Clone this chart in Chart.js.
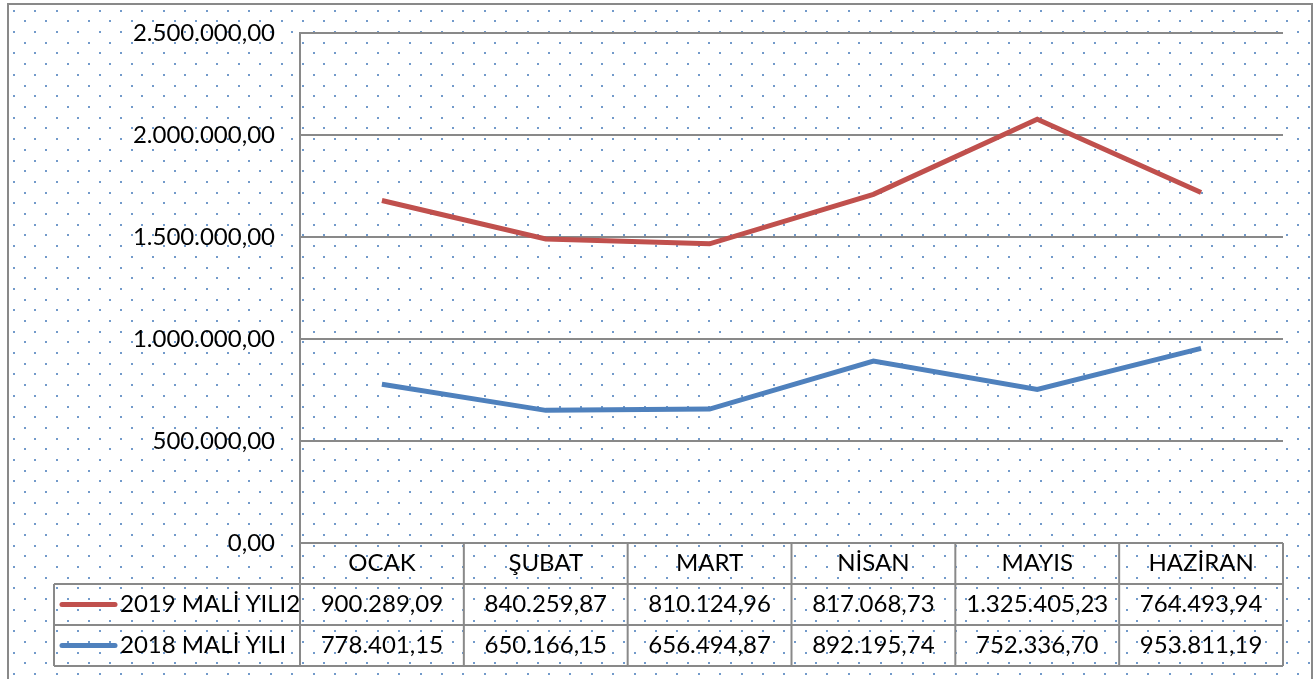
<!DOCTYPE html>
<html lang="tr">
<head>
    <meta charset="UTF-8">
    <title>Mali Yıl Karşılaştırma</title>
    <script src="https://cdn.jsdelivr.net/npm/chart.js@4.4.0/dist/chart.umd.min.js"></script>
    <style>
        body { margin: 0; padding: 0; background: #fff; }
        canvas { display: block; }
    </style>
</head>
<body>
    <canvas id="chart" width="1316" height="679"></canvas>

    <script>
        // data (2019 line is stacked on top of 2018 like the excel chart)
        const months = ['OCAK', 'ŞUBAT', 'MART', 'NİSAN', 'MAYIS', 'HAZİRAN'];
        const labels2019 = '2019 MALİ YILI2';
        const labels2018 = '2018 MALİ YILI';
        const values2019 = [900289.09, 840259.87, 810124.96, 817068.73, 1325405.23, 764493.94];
        const values2018 = [778401.15, 650166.15, 656494.87, 892195.74, 752336.70, 953811.19];
        const yTicks = [0, 500000, 1000000, 1500000, 2000000, 2500000];

        const FONT = 'Lato, sans-serif';
        const FONT_SIZE = 24;
        const RED = '#c0504d';
        const BLUE = '#4f81bd';
        const GRID = '#898989';

        function fmt(v) {
            const parts = v.toFixed(2).split('.');
            return parts[0].replace(/\B(?=(\d{3})+(?!\d))/g, '.') + ',' + parts[1];
        }

        const dotsBackground = {
            id: 'dotsBackground',
            beforeDraw(chart) {
                const ctx = chart.ctx;
                ctx.save();
                ctx.fillStyle = '#fff';
                ctx.fillRect(0, 0, chart.width, chart.height);
                ctx.fillStyle = 'rgba(79,129,189,0.8)';
                const step = 21.4;
                for (let y = 10.7; y < chart.height; y += step) {
                    for (let x = 14; x < chart.width; x += step) {
                        ctx.fillRect(Math.round(x) - 1, Math.round(y) - 1, 2, 2);
                        ctx.fillRect(Math.round(x + 10.7) - 1, Math.round(y + 10.7) - 1, 2, 2);
                    }
                }
                // outer frame
                ctx.strokeStyle = GRID;
                ctx.lineWidth = 2;
                ctx.strokeRect(8, 4, 1304, 700);
                ctx.restore();
            }
        };

        const dataTable = {
            id: 'dataTable',
            afterDraw(chart) {
                const ctx = chart.ctx;
                const xs = chart.scales.x;
                const area = chart.chartArea;
                const colW = (area.right - area.left) / months.length;
                const top = area.bottom;
                const rowH = 41;
                const legendLeft = 54;
                ctx.save();
                ctx.strokeStyle = GRID;
                ctx.lineWidth = 2;
                ctx.beginPath();
                // horizontal lines
                ctx.moveTo(area.left, top); ctx.lineTo(area.right, top);
                for (let r = 1; r <= 3; r++) {
                    ctx.moveTo(legendLeft, top + r * rowH);
                    ctx.lineTo(area.right, top + r * rowH);
                }
                // vertical lines
                for (let c = 0; c <= months.length; c++) {
                    const x = area.left + c * colW;
                    ctx.moveTo(x, top); ctx.lineTo(x, top + 3 * rowH);
                }
                ctx.moveTo(legendLeft, top + rowH); ctx.lineTo(legendLeft, top + 3 * rowH);
                ctx.stroke();

                ctx.fillStyle = '#000';
                ctx.font = FONT_SIZE + 'px ' + FONT;
                ctx.textAlign = 'center';
                ctx.textBaseline = 'middle';
                months.forEach((m, i) => {
                    const cx = xs.getPixelForValue(i);
                    ctx.fillText(m, cx, top + rowH * 0.5);
                    ctx.fillText(fmt(values2019[i]), cx, top + rowH * 1.5);
                    ctx.fillText(fmt(values2018[i]), cx, top + rowH * 2.5);
                });

                // legend keys
                const rows = [[labels2019, RED], [labels2018, BLUE]];
                rows.forEach((row, r) => {
                    const y = top + rowH * (1.5 + r);
                    ctx.strokeStyle = row[1];
                    ctx.lineWidth = 5;
                    ctx.lineCap = 'round';
                    ctx.beginPath();
                    ctx.moveTo(62, y); ctx.lineTo(115, y);
                    ctx.stroke();
                    ctx.textAlign = 'left';
                    ctx.fillText(row[0], 120, y);
                });
                ctx.restore();
            }
        };

        new Chart(document.getElementById('chart'), {
            type: 'line',
            data: {
                labels: months,
                datasets: [
                    {
                        label: labels2018,
                        data: values2018,
                        borderColor: BLUE,
                        borderWidth: 5,
                        pointRadius: 0,
                        tension: 0,
                        fill: false
                    },
                    {
                        label: labels2019,
                        data: values2019,
                        borderColor: RED,
                        borderWidth: 5,
                        pointRadius: 0,
                        tension: 0,
                        fill: false
                    }
                ]
            },
            options: {
                responsive: false,
                animation: false,
                layout: { padding: { left: 0, top: 33, right: 33, bottom: 136 } },
                plugins: {
                    legend: { display: false },
                    tooltip: { enabled: false }
                },
                scales: {
                    x: { type: 'category', offset: true, display: false },
                    y: {
                        stacked: true,
                        min: 0,
                        max: 2500000,
                        afterBuildTicks(scale) { scale.ticks = yTicks.map(v => ({ value: v })); },
                        afterFit(scale) {
                            scale.width = 300;
                            scale.paddingTop = 0;
                            scale.paddingBottom = 0;
                        },
                        ticks: {
                            color: '#000',
                            font: { family: FONT, size: FONT_SIZE },
                            padding: 25,
                            callback: v => fmt(v)
                        },
                        grid: { color: GRID, lineWidth: 2, drawTicks: false },
                        border: { display: true, color: GRID, width: 2 }
                    }
                }
            },
            plugins: [dotsBackground, dataTable]
        });
    </script>
</body>
</html>
